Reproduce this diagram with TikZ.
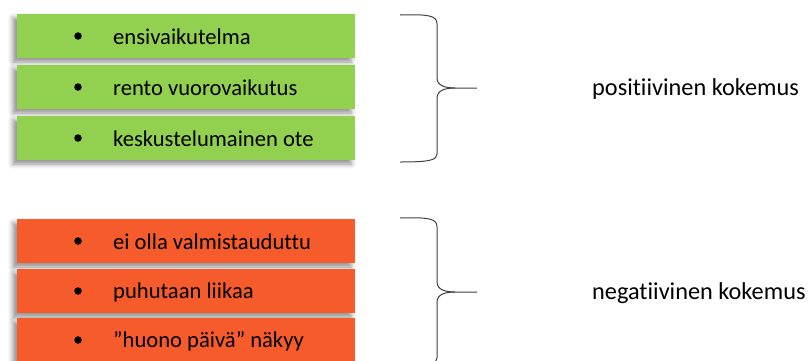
\documentclass[tikz,border=0pt]{standalone}
\usepackage{fontspec}
\setmainfont[RawFeature={-liga;-clig;-dlig;-calt;-rlig}]{Carlito}
\usetikzlibrary{shadows.blur}
\definecolor{okgreen}{HTML}{92D050}
\definecolor{badorange}{HTML}{F55B2B}
\definecolor{bracegray}{HTML}{404040}
\tikzset{
  itembox/.style={minimum width=338pt, minimum height=44pt, inner sep=0pt,
    draw=none, blur shadow={shadow xshift=-4pt, shadow yshift=-4pt,
    shadow blur radius=5pt, shadow opacity=45}},
  gbox/.style={itembox, fill=okgreen},
  obox/.style={itembox, fill=badorange},
  dot/.style={circle, fill=black, inner sep=0pt, minimum size=7.5pt},
  itemtext/.style={anchor=west, inner sep=0pt, font=\fontsize{22.6}{27}\selectfont},
  label/.style={anchor=west, inner sep=0pt, font=\fontsize{24.3}{29}\selectfont},
  bracket/.style={draw=bracegray, line width=1pt}
}
\begin{document}
\begin{tikzpicture}[x=1pt, y=-1pt]
  \useasboundingbox (0,0) rectangle (808,360);
  \clip (0,0) rectangle (808,360);

  % positive group
  \node[gbox] (g1) at (186,36) {};
  \node[gbox] (g2) at (186,87) {};
  \node[gbox] (g3) at (186,138) {};
  \node[dot] (g1d) at (78,36) {};
  \node[dot] (g2d) at (78,87) {};
  \node[dot] (g3d) at (78,138) {};
  \node[itemtext] (g1t) at (113,37) {ensivaikutelma};
  \node[itemtext] (g2t) at (113,88) {rento vuorovaikutus};
  \node[itemtext] (g3t) at (113,139) {keskustelumainen ote};

  % negative group
  \node[obox] (o1) at (186,241) {};
  \node[obox] (o2) at (186,291) {};
  \node[obox] (o3) at (186,340) {};
  \node[dot] (o1d) at (78,241) {};
  \node[dot] (o2d) at (78,291) {};
  \node[dot] (o3d) at (78,340) {};
  \node[itemtext] (o1t) at (113,242) {ei olla valmistauduttu};
  \node[itemtext] (o2t) at (113,292) {puhutaan liikaa};
  \node[itemtext] (o3t) at (113,341) {”huono päivä” näkyy};

  % braces
  \draw[bracket] (400,15) .. controls (430,14) and (437,16) .. (437,24)
    -- (437,78) .. controls (437,86) and (446,88) .. (455,88) -- (477,88);
  \draw[bracket] (455,88) .. controls (446,88) and (437,90) .. (437,98)
    -- (437,154) .. controls (437,160) and (430,162) .. (400,162);
  \node[label] (pos) at (592,89) {positiivinen kokemus};

  \draw[bracket] (400,218) .. controls (430,217) and (437,219) .. (437,227)
    -- (437,282) .. controls (437,290) and (446,292) .. (455,292) -- (477,292);
  \draw[bracket] (455,292) .. controls (446,292) and (437,294) .. (437,302)
    -- (437,358) .. controls (437,364) and (430,366) .. (400,366);
  \node[label] (neg) at (592,293) {negatiivinen kokemus};
\end{tikzpicture}
\end{document}
